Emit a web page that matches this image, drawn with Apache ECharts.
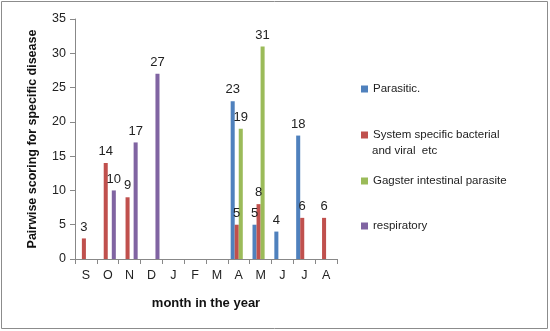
<!DOCTYPE html>
<html><head><meta charset="utf-8">
<script src="https://cdn.jsdelivr.net/npm/echarts@6/dist/echarts.min.js"></script>
<style>html,body{margin:0;padding:0;background:#fff}#c{width:550px;height:331px}</style>
</head><body><div id="c"></div>
<script>
const months = ['S','O','N','D','J','F','M','A','M','J','J','A'];
const seriesNames = ['Parasitic.','System specific bacterial and viral  etc','Gagster intestinal parasite','respiratory'];
const parasitic   = [null,null,null,null,null,null,null,23,5,4,18,null];
const bacterial   = [3,14,9,null,null,null,null,5,8,null,6,6];
const gagster     = [null,null,null,null,null,null,null,19,31,null,null,null];
const respiratory = [null,10,17,27,null,null,null,null,null,null,null,null];
const colors = ['#4F81BD','#C0504D','#9BBB59','#8064A2'];
const allData = [parasitic, bacterial, gagster, respiratory];
const legendTops = [78, 124, 170, 215];
const font = 'Liberation Sans, Arial, sans-serif';

const chart = echarts.init(document.getElementById('c'));
chart.setOption({
  animation: false,
  textStyle: {fontFamily: font},
  graphic: [
    {type:'rect', shape:{x:1.5,y:1.5,width:546,height:327}, style:{fill:'none', stroke:'#8c8c8c', lineWidth:1}},
    {type:'text', left:372, top:145, style:{text:'and viral  etc', fontFamily:font, fontSize:11.5, fill:'#222'}}
  ],
  legend: seriesNames.map((n,i)=>({
    data:[n], orient:'vertical', left:356, top:legendTops[i], itemWidth:7, itemHeight:7, itemGap:0,
    icon:'rect', textStyle:{fontFamily:font, fontSize:11.5, color:'#222'}, selectedMode:false,
    formatter: name => name.replace(' and viral  etc','')
  })),
  grid: {left:75, top:19, width:262, bottom:72},
  xAxis: {
    type:'category', data: months,
    name:'month in the year', nameLocation:'middle', nameGap:38,
    nameTextStyle:{fontWeight:'bold', fontSize:13, color:'#111', fontFamily:font},
    axisLine:{lineStyle:{color:'#888'}},
    axisTick:{show:true, alignWithLabel:false, length:5, lineStyle:{color:'#888'}},
    axisLabel:{color:'#222', fontSize:12.5, margin:10, interval:0}
  },
  yAxis: {
    type:'value', min:0, max:35, interval:5,
    name:'Pairwise scoring for specific disease', nameLocation:'middle', nameGap:36, nameRotate:90,
    nameTextStyle:{fontWeight:'bold', fontSize:12.5, color:'#111', fontFamily:font},
    axisLine:{show:true, lineStyle:{color:'#888'}},
    axisTick:{show:true, length:5, lineStyle:{color:'#888'}},
    splitLine:{show:false},
    axisLabel:{color:'#222', fontSize:12.5, margin:9}
  },
  series: allData.map((d,i)=>({
    name: seriesNames[i], type:'bar', data:d, barGap:'0%', barCategoryGap:'26%',
    itemStyle:{color:colors[i]},
    label:{show:true, position:'top', color:'#222', fontSize:13, distance:5}
  }))
});
</script></body></html>
